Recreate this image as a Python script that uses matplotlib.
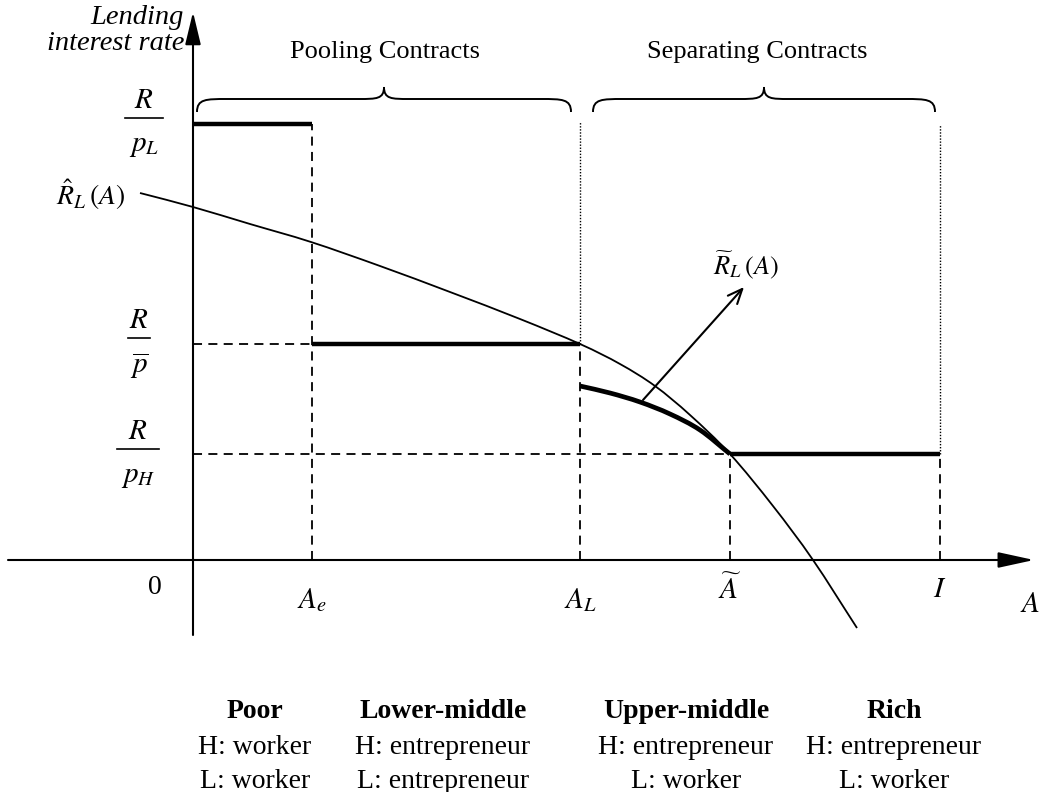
import numpy as np
import matplotlib
matplotlib.use("Agg")
import matplotlib.pyplot as plt
from matplotlib.path import Path
from matplotlib.patches import PathPatch

plt.rcParams['font.family'] = ['Liberation Serif', 'DejaVu Serif']
plt.rcParams['mathtext.fontset'] = 'stix'

# key wealth levels on the A axis
A_e, A_L, A_tilde, I_val = 1.19, 3.87, 5.37, 7.47
# interest rate levels
r_pL, r_pbar, r_pH = 4.36, 2.16, 1.06

# R_hat_L(A) curve
rhat_x = [-0.53, 0.00, 0.57, 1.18, 1.87, 2.57, 3.27, 3.87, 4.27, 4.62,
          4.97, 5.37, 5.80, 6.20, 6.64]
rhat_y = [3.67, 3.53, 3.36, 3.18, 2.94, 2.68, 2.41, 2.16, 1.96, 1.74,
          1.45, 1.06, 0.54, 0.00, -0.68]

# R_tilde_L(A) (thick part between A_L and A_tilde)
rtil_x = [3.87, 4.17, 4.47, 4.77, 5.07, 5.37]
rtil_y = [1.74, 1.67, 1.58, 1.46, 1.30, 1.06]

groups = ['Poor', 'Lower-middle', 'Upper-middle', 'Rich']
group_x = [0.62, 2.50, 4.93, 7.01]
h_role = ['H: worker', 'H: entrepreneur', 'H: entrepreneur', 'H: entrepreneur']
l_role = ['L: worker', 'L: entrepreneur', 'L: worker', 'L: worker']

fig = plt.figure(figsize=(10.41, 7.92), dpi=100)
ax = fig.add_axes([0, 0, 1, 1])
ax.set_xlim(-1.93, 8.48)
ax.set_ylim(-2.32, 5.60)
ax.axis('off')


def smooth_curve(xs, ys, lw):
    # cubic bezier segments passing through every read point
    p = np.column_stack([xs, ys])
    p = np.vstack([2 * p[0] - p[1], p, 2 * p[-1] - p[-2]])
    verts = [tuple(p[1])]
    codes = [Path.MOVETO]
    for i in range(1, len(p) - 2):
        c1 = p[i] + (p[i + 1] - p[i - 1]) / 6
        c2 = p[i + 1] - (p[i + 2] - p[i]) / 6
        verts += [tuple(c1), tuple(c2), tuple(p[i + 1])]
        codes += [Path.CURVE4] * 3
    ax.add_patch(PathPatch(Path(verts, codes), fill=False, lw=lw,
                           color='black', capstyle='butt'))


# axes with arrows
ax.annotate('', xy=(8.41, 0), xytext=(-1.85, 0),
            arrowprops=dict(arrowstyle='-|>,head_length=1.1,head_width=0.24',
                            mutation_scale=20, lw=1.5, color='black',
                            shrinkA=0, shrinkB=0))
ax.annotate('', xy=(0, 5.48), xytext=(0, -0.75),
            arrowprops=dict(arrowstyle='-|>,head_length=1.0,head_width=0.24',
                            mutation_scale=20, lw=1.5, color='black',
                            shrinkA=0, shrinkB=0))

dash = dict(color='black', lw=1.3, dashes=(5, 3.5))
dot = dict(color='black', lw=1.0, dashes=(1, 1.2))

# thick contract lines
ax.plot([0, A_e], [r_pL, r_pL], color='black', lw=3.2, solid_capstyle='butt')
ax.plot([A_e, A_L], [r_pbar, r_pbar], color='black', lw=3.2, solid_capstyle='butt')
ax.plot([A_tilde, I_val], [r_pH, r_pH], color='black', lw=3.2, solid_capstyle='butt')
smooth_curve(rtil_x, rtil_y, 3.4)

# dashed guides
ax.plot([A_e, A_e], [0, r_pL], **dash)
ax.plot([A_L, A_L], [0, r_pbar], **dash)
ax.plot([A_tilde, A_tilde], [0, r_pH], **dash)
ax.plot([I_val, I_val], [0, r_pH], **dash)
ax.plot([0, A_e], [r_pbar, r_pbar], **dash)
ax.plot([0, A_tilde], [r_pH, r_pH], **dash)

# dotted separators
ax.plot([A_L, A_L], [r_pbar, 4.38], **dot)
ax.plot([I_val, I_val], [r_pH, 4.35], **dot)

# R hat curve
smooth_curve(rhat_x, rhat_y, 1.3)

# arrow to R tilde label
ax.annotate('', xy=(5.51, 2.73), xytext=(4.50, 1.60),
            arrowprops=dict(arrowstyle='->,head_length=0.7,head_width=0.3',
                            mutation_scale=15, lw=1.5, color='black',
                            shrinkA=0, shrinkB=0))
ax.text(5.53, 2.95, r'$\widetilde{R}_L\,(A)$', fontsize=19, ha='center', va='center')
ax.text(-1.02, 3.65, r'$\hat{R}_L\,(A)$', fontsize=20, ha='center', va='center')


def brace(x0, x1, y_end=4.48, y_flat=4.61, y_tip=4.73):
    xc = (x0 + x1) / 2
    r, t = 0.30, 0.25
    verts = [(x0, y_end), (x0, y_flat), (x0 + r * 0.3, y_flat), (x0 + r, y_flat),
             (xc - t, y_flat),
             (xc - t * 0.3, y_flat), (xc, y_flat), (xc, y_tip),
             (xc, y_flat), (xc + t * 0.3, y_flat), (xc + t, y_flat),
             (x1 - r, y_flat),
             (x1 - r * 0.3, y_flat), (x1, y_flat), (x1, y_end)]
    codes = [Path.MOVETO, Path.CURVE4, Path.CURVE4, Path.CURVE4,
             Path.LINETO,
             Path.CURVE4, Path.CURVE4, Path.CURVE4,
             Path.CURVE4, Path.CURVE4, Path.CURVE4,
             Path.LINETO,
             Path.CURVE4, Path.CURVE4, Path.CURVE4]
    ax.add_patch(PathPatch(Path(verts, codes), fill=False, lw=1.4, color='black'))


brace(0.04, 3.78)
brace(4.00, 7.42)
ax.text(1.92, 5.08, 'Pooling Contracts', fontsize=19, ha='center', va='center')
ax.text(5.64, 5.08, 'Separating Contracts', fontsize=19, ha='center', va='center')

# y label
ax.text(-0.09, 5.42, 'Lending', fontsize=20.5, style='italic', ha='right', va='center')
ax.text(-0.09, 5.17, 'interest rate', fontsize=20.5, style='italic', ha='right', va='center')


def frac(xc, y_bar, den, half):
    ax.text(xc, y_bar + 0.17, r'$R$', fontsize=21, ha='center', va='center')
    ax.plot([xc - half, xc + half], [y_bar, y_bar], color='black', lw=1.2)
    ax.text(xc, y_bar - 0.28, den, fontsize=21, ha='center', va='center')


frac(-0.49, 4.42, r'$p_L$', 0.19)
frac(-0.54, 2.22, r'$\overline{p}$', 0.11)
frac(-0.55, 1.11, r'$p_H$', 0.21)

# axis tick labels
ax.text(-0.38, -0.28, '0', fontsize=20, ha='center', va='center')
ax.text(A_e, -0.40, r'$A_e$', fontsize=21, ha='center', va='center')
ax.text(A_L, -0.40, r'$A_L$', fontsize=21, ha='center', va='center')
ax.text(A_tilde, -0.30, r'$\widetilde{A}$', fontsize=21, ha='center', va='center')
ax.text(I_val, -0.30, r'$I$', fontsize=21, ha='center', va='center')
ax.text(8.37, -0.45, r'$A$', fontsize=21, ha='center', va='center')

# class descriptions
for gx, g, h, l in zip(group_x, groups, h_role, l_role):
    ax.text(gx, -1.51, g, fontsize=20, fontweight='bold', ha='center', va='center')
    ax.text(gx, -1.87, h, fontsize=20, ha='center', va='center')
    ax.text(gx, -2.21, l, fontsize=20, ha='center', va='center')

fig.savefig('out.png', dpi=100)
